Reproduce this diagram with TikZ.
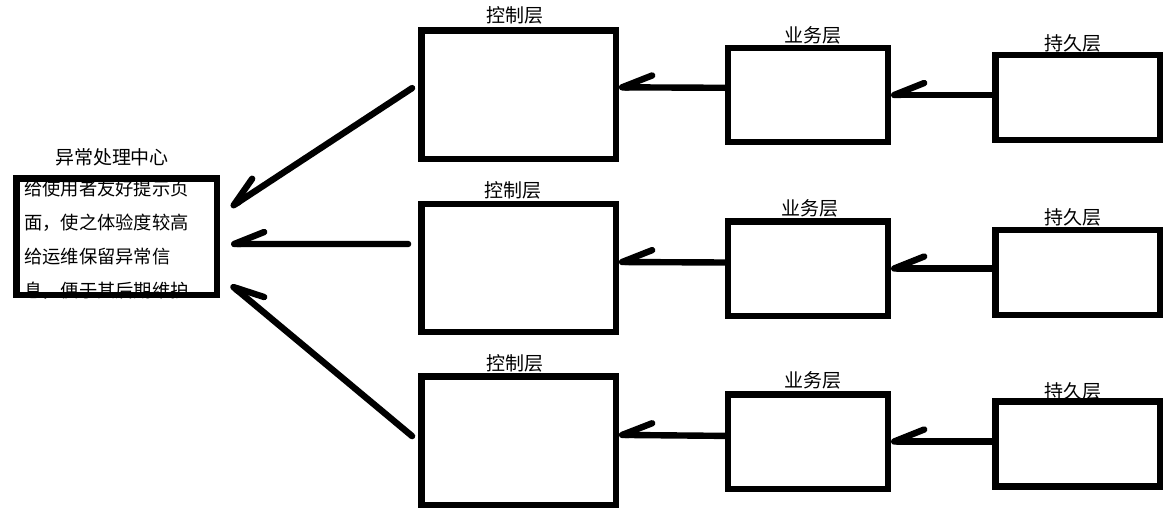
\documentclass[tikz,border=0pt]{standalone}
\usepackage{fontspec}
\setmainfont{Noto Sans CJK SC}
\usetikzlibrary{arrows.meta}

\begin{document}
\begin{tikzpicture}[
  layer/.style={draw, line width=0.16cm, inner sep=0pt},
  ctlbox/.style={layer, minimum width=4.86cm, minimum height=3.21cm},
  bizbox/.style={layer, minimum width=3.99cm, minimum height=2.36cm},
  perbox/.style={layer, minimum width=4.11cm, minimum height=2.125cm},
  lbl/.style={font=\fontsize{13.5pt}{16pt}\selectfont, inner sep=0pt},
  msg/.style={font=\fontsize{13pt}{16pt}\selectfont, inner sep=0pt, anchor=west},
  arr/.style={line width=0.16cm, line cap=round,
    -{Straight Barb[harpoon, swap, round, length=0.75cm, width=0.6cm]}}]
  \useasboundingbox (0,0) rectangle (29.225,-12.9);

  % 异常处理中心
  \node[lbl] (exc_title) at (2.8,-3.925) {异常处理中心};
  \node[msg] (msg1) at (0.6,-4.725) {给使用者友好提示页};
  \node[msg] (msg2) at (0.6,-5.575) {面，使之体验度较高};
  \node[msg] (msg3) at (0.6,-6.425) {给运维保留异常信};
  \node[msg] (msg4) at (0.6,-7.275) {息，便于其后期维护};
  \node[layer, minimum width=5.01cm, minimum height=2.91cm] (exc) at (2.9125,-5.9125) {};
  \coordinate (in1) at (5.775,-5.175);
  \coordinate (in2) at (5.775,-6.1);
  \coordinate (in3) at (5.775,-7.125);

  % 第一行
  \node[ctlbox] (ctl1) at (12.9625,-2.3625) {};
  \node[lbl] (ctl1_label) at (12.875,-0.375) {控制层};
  \node[bizbox] (biz1) at (20.2,-2.375) {};
  \node[lbl] (biz1_label) at (20.325,-0.875) {业务层};
  \node[perbox] (per1) at (26.94,-2.4375) {};
  \node[lbl] (per1_label) at (26.825,-1.075) {持久层};
  \draw[arr] (per1.west |- biz1.east) -- (biz1.east);
  \draw[arr] ([yshift=1.8mm]biz1.west) -- ([yshift=1.8mm]ctl1.east);
  \draw[arr] ([xshift=-1.5mm,yshift=1.6mm]ctl1.west) -- (in1);

  % 第二行
  \node[ctlbox] (ctl2) at (12.9625,-6.7) {};
  \node[lbl] (ctl2_label) at (12.825,-4.75) {控制层};
  \node[bizbox] (biz2) at (20.2,-6.7125) {};
  \node[lbl] (biz2_label) at (20.25,-5.2) {业务层};
  \node[perbox] (per2) at (26.94,-6.8125) {};
  \node[lbl] (per2_label) at (26.825,-5.425) {持久层};
  \draw[arr] (per2.west |- biz2.east) -- (biz2.east);
  \draw[arr] ([yshift=1.5mm]biz2.west) -- ([yshift=1.5mm]ctl2.east);
  \draw[arr] ([xshift=-2.5mm,yshift=6mm]ctl2.west) -- (in2);

  % 第三行
  \node[ctlbox] (ctl3) at (12.9625,-11.0125) {};
  \node[lbl] (ctl3_label) at (12.875,-9.075) {控制层};
  \node[bizbox] (biz3) at (20.2,-11.0375) {};
  \node[lbl] (biz3_label) at (20.325,-9.5) {业务层};
  \node[perbox] (per3) at (26.94,-11.1) {};
  \node[lbl] (per3_label) at (26.825,-9.775) {持久层};
  \draw[arr] (per3.west |- biz3.east) -- (biz3.east);
  \draw[arr] ([yshift=1.4mm]biz3.west) -- ([yshift=1.4mm]ctl3.east);
  \draw[arr] ([xshift=-1.5mm,yshift=1.1mm]ctl3.west) -- (in3);
\end{tikzpicture}
\end{document}
